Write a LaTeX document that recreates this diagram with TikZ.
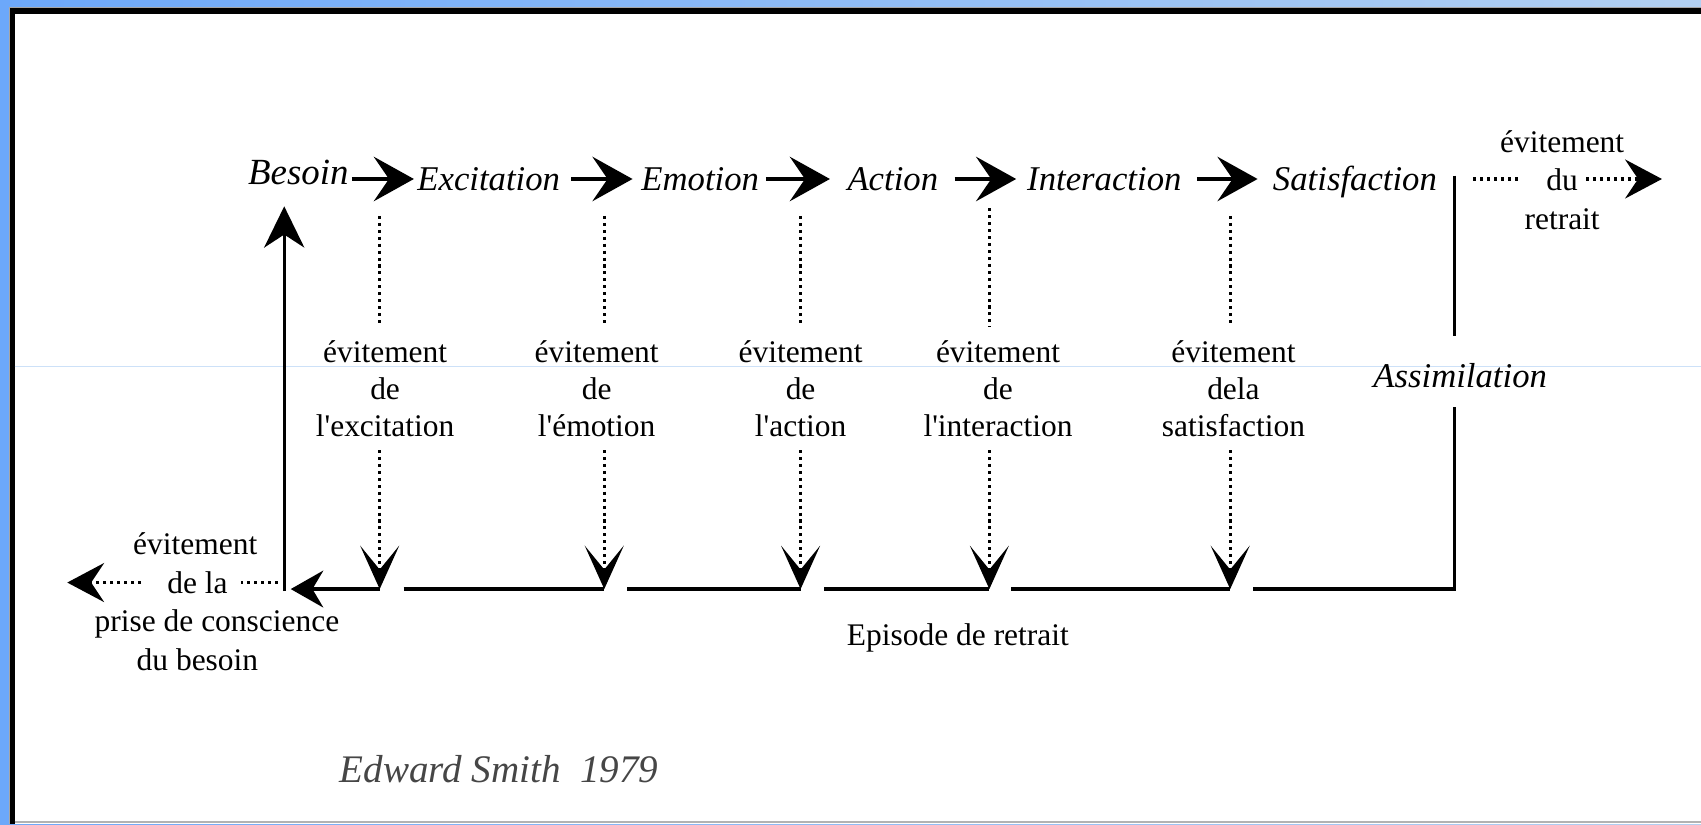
\documentclass[tikz,border=0pt]{standalone}
\usepackage{fontspec}
\setmainfont{Liberation Serif}
\usetikzlibrary{arrows.meta}
\definecolor{bgblue}{RGB}{108,168,250}
\definecolor{bgbluetwo}{RGB}{178,208,242}
\definecolor{faintblue}{RGB}{205,225,248}
\definecolor{sig}{RGB}{70,70,70}
\begin{document}
\begin{tikzpicture}[x=1pt,y=-1pt,
  stage/.style={font=\itshape\fontsize{32}{38}\selectfont, inner sep=0pt, text height=22pt, text depth=0pt},
  avoid/.style={font=\fontsize{29}{34}\selectfont, align=center, inner sep=0pt},
  avoidwide/.style={font=\fontsize{29}{35.5}\selectfont, align=center, inner sep=0pt},
  flow/.style={line width=3pt, -{Stealth[length=37pt,width=41pt,inset=14pt]}},
  solidline/.style={line width=3pt},
  dotline/.style={line width=2.8pt, dash pattern=on 2.8pt off 3.6pt},
  dotvee/.style={dotline, -{Stealth[length=40pt,width=36pt,inset=22pt]}},
  dotarrow/.style={dotline, -{Stealth[length=34pt,width=36pt,inset=12pt]}},
  leftarrow/.style={line width=3pt, -{Stealth[length=30pt,width=34pt,inset=10pt]}},
  uparrow/.style={line width=3pt, -{Stealth[length=38pt,width=37pt,inset=12pt]}},
]
\useasboundingbox (0,0) rectangle (1568,760);
% frame
\shade[left color=bgblue, right color=bgbluetwo] (0,0) rectangle (1568,760);
\fill[bgblue] (0,0) rectangle (9,760);
\fill[gray!70] (8,6.5) rectangle (1568,760);
\fill[black] (9,7.5) rectangle (1568,760);
\fill[white] (13.5,12.5) rectangle (1568,760);
\draw[gray!60, line width=1.5pt] (13.5,758) -- (1568,758);
\draw[faintblue, line width=0.8pt] (13.5,338) -- (1568,338);

% stages
\node[stage, font=\itshape\fontsize{34}{40}\selectfont, anchor=base] (besoin) at (275,170) {Besoin};
\node[stage, anchor=base] (excit) at (450.5,176) {Excitation};
\node[stage, anchor=base] (emot) at (645.5,176) {Emotion};
\node[stage, anchor=base] (act) at (823,176) {Action};
\node[stage, anchor=base] (inter) at (1018,176) {Interaction};
\node[stage, anchor=base] (satis) at (1249,176) {Satisfaction};
\node[stage, anchor=base] (assim) at (1346,357) {Assimilation};

\draw[flow, shorten <=3pt, shorten >=3pt] (besoin.east |- excit.west) -- (excit.west);
\draw[flow, shorten <=10pt, shorten >=8pt] (excit.east) -- (emot.west);
\draw[flow, shorten <=6pt, shorten >=16pt] (emot.east) -- (act.west);
\draw[flow, shorten <=15pt, shorten >=10pt] (act.east) -- (inter.west);
\draw[flow, shorten <=14pt, shorten >=14pt] (inter.east) -- (satis.west);

% avoidance labels
\node[avoid, anchor=north] (av1) at (355,314) {évitement\\de\\l\textquotesingle excitation};
\node[avoid, anchor=north] (av2) at (550,314) {évitement\\de\\l\textquotesingle émotion};
\node[avoid, anchor=north] (av3) at (738,314) {évitement\\de\\l\textquotesingle action};
\node[avoid, anchor=north] (av4) at (920,314) {évitement\\de\\l\textquotesingle interaction};
\node[avoid, anchor=north] (av5) at (1137,314) {évitement\\dela\\satisfaction};

\coordinate (t1) at (350,199);
\coordinate (t2) at (557,199);
\coordinate (t3) at (738,199);
\coordinate (t4) at (912,192);
\coordinate (t5) at (1134,199);
\coordinate (b1) at (350,543);
\coordinate (b2) at (557,543);
\coordinate (b3) at (738,543);
\coordinate (b4) at (912,543);
\coordinate (b5) at (1134,543);

\foreach \i in {1,...,5}{
  \draw[dotline, shorten >=13pt] (t\i) -- (t\i |- av\i.north);
  \draw[dotvee, shorten <=12pt] (t\i |- av\i.south) -- (b\i);
}

% withdrawal line
\coordinate (s0) at (1341,162);
\coordinate (corner) at (1341,543);
\coordinate (lc) at (262,543);
\draw[solidline, shorten >=25pt] (s0) -- (s0 |- assim.north);
\draw[solidline, shorten <=18pt] (s0 |- assim.south) -- (corner) -- ([xshift=21pt]b5);
\draw[solidline] ([xshift=20pt]b4) -- (b5);
\draw[solidline] ([xshift=22pt]b3) -- (b4);
\draw[solidline] ([xshift=21pt]b2) -- (b3);
\draw[solidline] ([xshift=22pt]b1) -- (b2);
\draw[leftarrow, shorten >=6pt] (b1) -- (lc);
\draw[uparrow, shorten >=20pt] ([yshift=-2pt]lc) -- (lc |- besoin.south);

% right avoidance
\node[avoidwide, anchor=north] (avr) at (1440,120) {évitement\\du\\retrait};
\coordinate (r0) at (1358,165);
\coordinate (r1) at (1400,165);
\coordinate (r2) at (1462,165);
\coordinate (r3) at (1532,165);
\draw[dotline] (r0) -- (r1);
\draw[dotarrow] (r2) -- (r3);

% left avoidance
\node[avoidwide, anchor=north] (avb) at (200,491) {évitement\makebox[40pt]{}\\de la\makebox[36pt]{}\\prise de conscience\\du besoin\makebox[36pt]{}};
\coordinate (l0) at (256,537);
\coordinate (l1) at (222,537);
\coordinate (l2) at (130,537);
\coordinate (l3) at (62,537);
\draw[dotline] (l0) -- (l1);
\draw[dotarrow] (l2) -- (l3);

% bottom texts
\node[avoid, anchor=base] (episode) at (883,595) {Episode de retrait};
\node[font=\itshape\fontsize{36}{40}\selectfont, text=sig, anchor=base west, inner sep=0pt] (author) at (313,721) {Edward Smith~~1979};
\end{tikzpicture}
\end{document}
